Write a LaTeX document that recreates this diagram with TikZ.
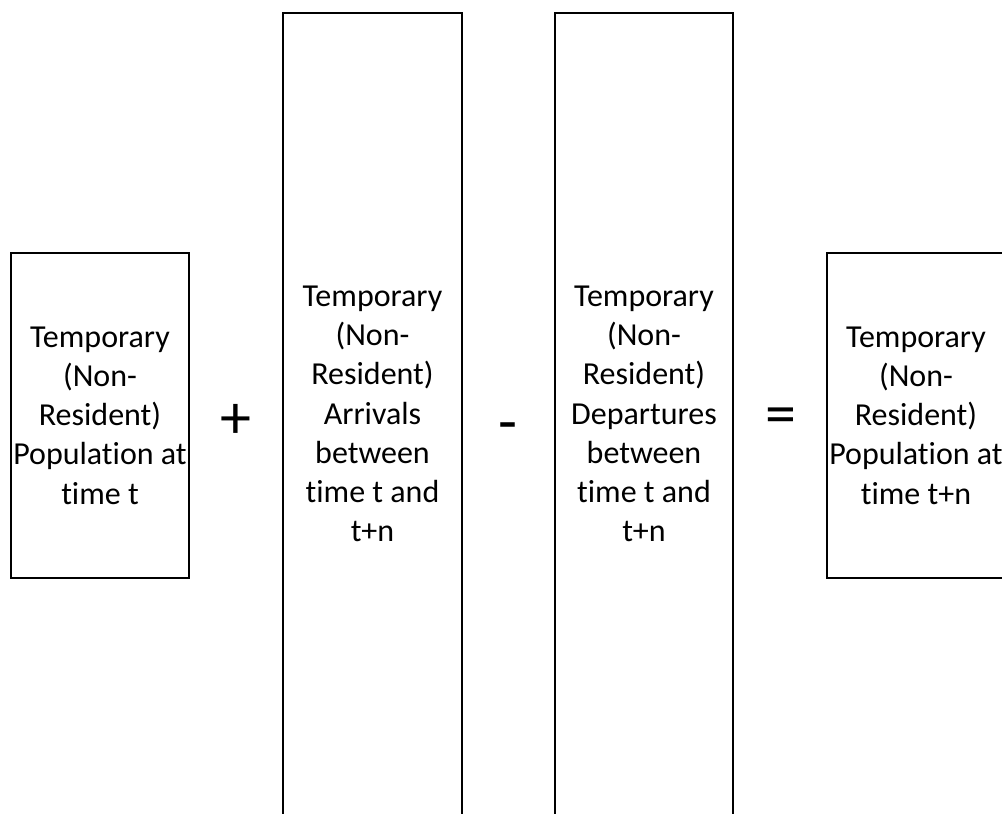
\documentclass[tikz,border=0pt]{standalone}
\usepackage{fontspec}
\setmainfont{Carlito}[RawFeature={-liga;-clig;-calt;-dlig}]
\newcommand{\myti}{t\kern0pt i}
\begin{document}
\begin{tikzpicture}[x=1pt,y=-1pt,
  box/.style={draw=black, line width=2pt, rectangle, minimum width=178pt, align=center, inner sep=0pt,
    font=\fontsize{32}{39.2}\selectfont},
  op/.style={inner sep=0pt, font=\fontsize{62}{62}\selectfont}]
\useasboundingbox (0,0) rectangle (1002,814);
\clip (0,0) rectangle (1002,814);
\node[box, minimum height=325pt] (b1) at (100,415.5) {Temporary\\(Non-\\Resident)\\Popula\myti on at\\\myti me t};
\node[box, minimum width=179pt, minimum height=802pt] (b2) at (372.5,414) {Temporary\\(Non-\\Resident)\\Arrivals\\between\\\myti me t and\\t+n};
\node[box, minimum height=802pt] (b3) at (644,414) {Temporary\\(Non-\\Resident)\\Departures\\between\\\myti me t and\\t+n};
\node[box, minimum height=325pt] (b4) at (916,415.5) {Temporary\\(Non-\\Resident)\\Popula\myti on at\\\myti me t+n};
\node[op] (plus) at (236,421) {+};
\node[op] (minus) at (508,433) {-};
\node[op] (eq) at (781,421) {=};
\end{tikzpicture}
\end{document}
